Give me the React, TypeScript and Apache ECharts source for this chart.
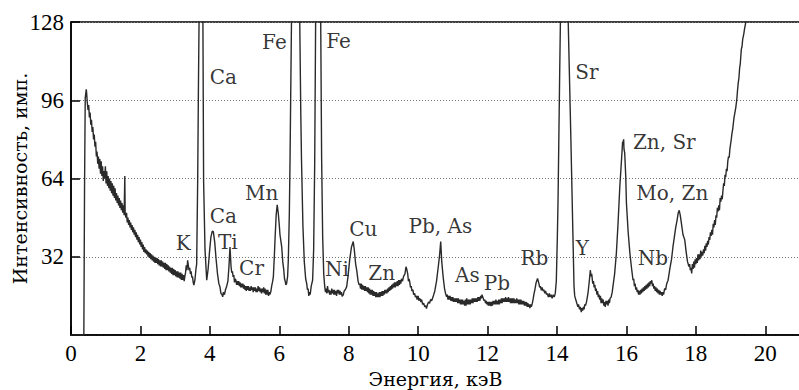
import React, { useEffect, useRef } from "react";
import * as echarts from "echarts";

// Spectrum: [energy keV, intensity counts]
const spectrumLow: [number, number][] = [
  [0, 0], [0.37, 0], [0.39, 60], [0.41, 97], [0.44, 100.5], [0.45, 99], [0.47, 95], [0.49, 92], [0.51, 94], [0.53, 89],
  [0.55, 91], [0.57, 86], [0.59, 88], [0.61, 83], [0.63, 85], [0.65, 80], [0.67, 82], [0.69, 77], [0.71, 79], [0.73, 73],
  [0.75, 75], [0.77, 70], [0.79, 73], [0.81, 68], [0.83, 72], [0.85, 66], [0.87, 71], [0.89, 65], [0.91, 69], [0.93, 63],
  [0.95, 67], [0.97, 64], [0.99, 69], [1.01, 62], [1.03, 67], [1.05, 61], [1.07, 65], [1.09, 60], [1.11, 64], [1.13, 59],
  [1.15, 63], [1.17, 58], [1.19, 62], [1.21, 57], [1.23, 61], [1.25, 56], [1.27, 60], [1.29, 55], [1.31, 58], [1.33, 54],
  [1.35, 57], [1.37, 53], [1.39, 56], [1.41, 52], [1.43, 55], [1.45, 51], [1.47, 54], [1.49, 50], [1.51, 53], [1.53, 49],
  [1.55, 65], [1.56, 50], [1.58, 48], [1.6, 50], [1.62, 46], [1.64, 48], [1.66, 45], [1.68, 47], [1.7, 44], [1.72, 46],
  [1.74, 43], [1.76, 45], [1.78, 42], [1.8, 44], [1.82, 41], [1.84, 43], [1.86, 40], [1.88, 42], [1.9, 39], [1.92, 41],
  [1.94, 38], [1.96, 40], [1.98, 37], [2.0, 39], [2.02, 36], [2.04, 38], [2.06, 35], [2.08, 37], [2.1, 34], [2.12, 36],
  [2.14, 33.5], [2.16, 35], [2.18, 33], [2.2, 34.5], [2.22, 32], [2.24, 34], [2.26, 31.5], [2.28, 33.5], [2.3, 31], [2.32, 33],
  [2.34, 30.5], [2.36, 32.5], [2.38, 30], [2.4, 32], [2.42, 29.5], [2.44, 31.5], [2.46, 29.5], [2.48, 31.5], [2.5, 29], [2.52, 31],
  [2.54, 28.5], [2.56, 30.5], [2.58, 28], [2.6, 30.5], [2.62, 28], [2.64, 30], [2.66, 27.5], [2.68, 29.5], [2.7, 27], [2.72, 29.5],
  [2.74, 26.5], [2.76, 29], [2.78, 26.5], [2.8, 28.5], [2.82, 26], [2.84, 28], [2.86, 25.5], [2.88, 27.5], [2.9, 25], [2.92, 27.5],
  [2.94, 24.5], [2.96, 27], [2.98, 24.5], [3.0, 26.5], [3.02, 24], [3.04, 26], [3.06, 23.5], [3.08, 26], [3.1, 23.5], [3.12, 25.5],
  [3.14, 23], [3.16, 25.5], [3.18, 22.5], [3.2, 25], [3.22, 22.5], [3.24, 24.5], [3.26, 22], [3.28, 24], [3.3, 25.5], [3.32, 28.5],
  [3.34, 26.5], [3.36, 30.5], [3.38, 28.5], [3.4, 26.5], [3.42, 27.5], [3.44, 25], [3.46, 26], [3.48, 23.5], [3.5, 24], [3.52, 21.5],
  [3.54, 20.4], [3.57, 22.5], [3.6, 27], [3.62, 29], [3.65, 64], [3.67, 100], [3.69, 130], [3.74, 200], [3.79, 130], [3.8, 128],
  [3.82, 63], [3.86, 35], [3.91, 22.4], [3.95, 27], [3.99, 34], [4.03, 40], [4.07, 42.5], [4.1, 42.3], [4.14, 38], [4.18, 31],
  [4.22, 25], [4.26, 21], [4.29, 19.7], [4.32, 17], [4.35, 16.5], [4.37, 15.6], [4.39, 17.5], [4.42, 16.5], [4.45, 18.5], [4.48, 19.7],
  [4.52, 22], [4.55, 28], [4.58, 36], [4.61, 28], [4.63, 25.5], [4.65, 26], [4.67, 23.8], [4.69, 24.5], [4.71, 21.5], [4.73, 23],
  [4.75, 22.5], [4.77, 20.5], [4.79, 22], [4.81, 20.5], [4.83, 22], [4.85, 20], [4.87, 21.5], [4.89, 19.5], [4.91, 21], [4.93, 19.5],
  [4.95, 21], [4.97, 19], [4.99, 20.5], [5.01, 18.5], [5.03, 20], [5.05, 18], [5.07, 20], [5.09, 18.5], [5.11, 20], [5.13, 18],
  [5.15, 19.5], [5.17, 18], [5.19, 20], [5.21, 18.5], [5.23, 19.5], [5.25, 17.5], [5.27, 19.5], [5.29, 18], [5.31, 19.5], [5.33, 17.5],
  [5.35, 19], [5.37, 17.5], [5.39, 20], [5.41, 18], [5.43, 19.5], [5.45, 17.5], [5.47, 19], [5.49, 17], [5.51, 19], [5.53, 17.5],
  [5.55, 19.5], [5.57, 17], [5.59, 19], [5.61, 16.5], [5.63, 18.5], [5.65, 16.5], [5.67, 18.5], [5.69, 16], [5.71, 17.5], [5.73, 16.5],
  [5.76, 18], [5.78, 20], [5.81, 22], [5.83, 24], [5.86, 33], [5.88, 40], [5.91, 49], [5.94, 53.2], [5.97, 50], [6.0, 45],
  [6.02, 41], [6.04, 39], [6.07, 36], [6.1, 30], [6.13, 26.5], [6.15, 23], [6.17, 22], [6.19, 20.5], [6.21, 21], [6.24, 24],
  [6.26, 30.6], [6.29, 50], [6.31, 72], [6.36, 140], [6.47, 300], [6.58, 140], [6.62, 90], [6.64, 71.7], [6.68, 45], [6.72, 30],
  [6.76, 23], [6.79, 21], [6.81, 18.5], [6.83, 19], [6.85, 16], [6.87, 17.5], [6.89, 16.5], [6.92, 20], [6.96, 22.4], [6.99, 35],
  [7.02, 70], [7.05, 135], [7.12, 180], [7.19, 135], [7.22, 72], [7.25, 40], [7.28, 25], [7.31, 19.7], [7.33, 17.5], [7.35, 19],
  [7.37, 17], [7.39, 20], [7.41, 17.5], [7.43, 18.5], [7.45, 16.5], [7.47, 18], [7.49, 16.5], [7.51, 19], [7.53, 17], [7.55, 18.5],
  [7.57, 16.5], [7.59, 18.5], [7.61, 16.5], [7.63, 18], [7.65, 16], [7.67, 18.5], [7.69, 17], [7.71, 18.5], [7.73, 16.5], [7.75, 18],
  [7.77, 16.5], [7.79, 17.5], [7.81, 15.8], [7.84, 16.3], [7.87, 18], [7.9, 18.5], [7.94, 19.7], [7.98, 24], [8.03, 31], [8.08, 36],
  [8.13, 38.2], [8.16, 35], [8.2, 29], [8.23, 26.5], [8.27, 22], [8.3, 20.5], [8.32, 21], [8.34, 19], [8.36, 21], [8.38, 18.5],
  [8.4, 20.5], [8.42, 18.5], [8.44, 20], [8.46, 18], [8.48, 20], [8.5, 18], [8.52, 19.5], [8.54, 17.5], [8.56, 19.5], [8.58, 17],
  [8.6, 19], [8.62, 16.5], [8.64, 18.5], [8.66, 16.5], [8.68, 18.5], [8.7, 16], [8.72, 18], [8.74, 16], [8.76, 17.5], [8.78, 15.5],
  [8.8, 17.5], [8.82, 15.5], [8.84, 17], [8.86, 15.5], [8.88, 17.5], [8.9, 15.5], [8.92, 17.5], [8.94, 16], [8.96, 18], [8.98, 16],
  [9.0, 18], [9.02, 16.5], [9.04, 18.5], [9.06, 17], [9.08, 18.5], [9.1, 17], [9.12, 19], [9.14, 17.5], [9.16, 19.5], [9.18, 18],
  [9.2, 20], [9.22, 18.5], [9.24, 20.5], [9.26, 19], [9.28, 21], [9.3, 19.5], [9.32, 21.5], [9.34, 19.5], [9.36, 21.5], [9.38, 20],
  [9.4, 22], [9.42, 20], [9.44, 22.5], [9.46, 20.5], [9.48, 22.5], [9.5, 21], [9.52, 23], [9.55, 22], [9.58, 24], [9.62, 25],
  [9.65, 27.9], [9.67, 27], [9.7, 25], [9.72, 22], [9.74, 23], [9.76, 21.5], [9.78, 19.5], [9.8, 20], [9.82, 18], [9.85, 18.5],
];

const spectrumHigh: [number, number][] = [
  [9.87, 16.5], [9.9, 17], [9.92, 15.5], [9.95, 16], [9.97, 14.5], [10.0, 16], [10.02, 14], [10.05, 15], [10.08, 13.5], [10.1, 14.5],
  [10.13, 12.5], [10.16, 13], [10.19, 11.5], [10.22, 12], [10.24, 10.8], [10.27, 12.5], [10.3, 13.5], [10.33, 13], [10.36, 14.5], [10.39, 14],
  [10.43, 15.6], [10.48, 18], [10.53, 22], [10.58, 27.9], [10.62, 33], [10.65, 38.2], [10.68, 30], [10.72, 23.8], [10.76, 19], [10.79, 17],
  [10.82, 15.6], [10.84, 16.5], [10.86, 14.5], [10.88, 16], [10.9, 14.5], [10.92, 16], [10.94, 14], [10.96, 15.5], [10.98, 13.8], [11.0, 15.5],
  [11.02, 13.5], [11.04, 15], [11.06, 13.5], [11.08, 15], [11.1, 13.5], [11.12, 15], [11.14, 13], [11.16, 15], [11.18, 13], [11.2, 14.5],
  [11.22, 12.5], [11.24, 14.5], [11.26, 12.5], [11.28, 14.5], [11.3, 12.5], [11.32, 14], [11.34, 12], [11.36, 14.5], [11.38, 12], [11.4, 15],
  [11.42, 12.5], [11.44, 14.5], [11.46, 12.5], [11.48, 14.5], [11.5, 12.5], [11.52, 14.5], [11.54, 13], [11.56, 15], [11.58, 13], [11.6, 15],
  [11.62, 13.5], [11.64, 15], [11.66, 13.5], [11.68, 15], [11.7, 13.5], [11.72, 15.5], [11.74, 14], [11.76, 15.5], [11.78, 14], [11.8, 16],
  [11.82, 15], [11.84, 16.5], [11.86, 15.5], [11.88, 15.5], [11.9, 14], [11.92, 14.5], [11.94, 13], [11.96, 14], [11.98, 12.5], [12.0, 13.5],
  [12.02, 12], [12.04, 13.5], [12.06, 12], [12.08, 13.5], [12.1, 11.8], [12.12, 13.5], [12.14, 12], [12.16, 14], [12.18, 12.5], [12.2, 14],
  [12.22, 12.5], [12.24, 14.5], [12.26, 12.5], [12.28, 14], [12.3, 12.5], [12.32, 14.5], [12.34, 12.5], [12.36, 14.5], [12.38, 13], [12.4, 15],
  [12.42, 13], [12.44, 15], [12.46, 13.5], [12.48, 15], [12.5, 13.5], [12.52, 15.5], [12.54, 13.5], [12.56, 15], [12.58, 13.5], [12.6, 15.5],
  [12.62, 13.5], [12.64, 15], [12.66, 13], [12.68, 15], [12.7, 13], [12.72, 15], [12.74, 13], [12.76, 15], [12.78, 13], [12.8, 14.5],
  [12.82, 13], [12.84, 15], [12.86, 13], [12.88, 14.5], [12.9, 12.5], [12.92, 14.5], [12.94, 12.5], [12.96, 14.5], [12.98, 12.5], [13.0, 14],
  [13.02, 12.5], [13.04, 14], [13.06, 12], [13.08, 13.5], [13.1, 12], [13.12, 13.5], [13.14, 11.5], [13.16, 13], [13.18, 11.5], [13.2, 12.5],
  [13.22, 11], [13.24, 12.5], [13.26, 11.5], [13.29, 13], [13.31, 14.5], [13.34, 17], [13.36, 18.3], [13.4, 21.5], [13.44, 23.1], [13.48, 21],
  [13.5, 19.5], [13.52, 20], [13.55, 18.3], [13.57, 19.5], [13.6, 18], [13.62, 18.5], [13.65, 17], [13.67, 18], [13.7, 16.5], [13.72, 17],
  [13.75, 15.5], [13.78, 17], [13.8, 15.5], [13.83, 16.5], [13.86, 15], [13.89, 16.5], [13.92, 15.5], [13.95, 17], [13.98, 22], [14.01, 40],
  [14.03, 55], [14.08, 110], [14.1, 130], [14.21, 280], [14.32, 130], [14.4, 80], [14.46, 40], [14.49, 20], [14.51, 16], [14.53, 15],
  [14.56, 13.5], [14.58, 12.5], [14.6, 11.5], [14.62, 12.5], [14.65, 10.5], [14.67, 11.5], [14.7, 9.4], [14.72, 11], [14.74, 10], [14.76, 11.5],
  [14.78, 10.5], [14.8, 12.5], [14.82, 12], [14.85, 13.5], [14.88, 16], [14.9, 18], [14.93, 22], [14.96, 26.5], [14.98, 24], [15.0, 25],
  [15.03, 21], [15.05, 22], [15.07, 19.5], [15.09, 20.5], [15.11, 18], [15.13, 19], [15.15, 16.5], [15.17, 18], [15.19, 15.5], [15.21, 16.5],
  [15.23, 14.5], [15.25, 16], [15.27, 13], [15.29, 15], [15.31, 13], [15.33, 14.5], [15.35, 12], [15.37, 13.5], [15.39, 11.5], [15.41, 14],
  [15.43, 12.5], [15.45, 14], [15.47, 12], [15.49, 14.5], [15.51, 13], [15.53, 15], [15.56, 15.5], [15.59, 17.5], [15.61, 19.7], [15.66, 25],
  [15.71, 33.4], [15.76, 46], [15.81, 60.8], [15.86, 72], [15.89, 79], [15.9, 78.6], [15.92, 80], [15.93, 76], [15.95, 74.5], [15.98, 65],
  [16.0, 54], [16.05, 42], [16.1, 33.4], [16.15, 27], [16.19, 22.4], [16.21, 23], [16.23, 20], [16.25, 21], [16.27, 18.5], [16.29, 19.5],
  [16.31, 17.5], [16.33, 18.5], [16.35, 16.5], [16.37, 18], [16.39, 16.5], [16.41, 18.5], [16.43, 17], [16.45, 19], [16.47, 17.5], [16.49, 19.5],
  [16.51, 18], [16.53, 20], [16.55, 18.5], [16.57, 20.5], [16.59, 19], [16.61, 21], [16.63, 19.5], [16.65, 21.5], [16.67, 20], [16.69, 22],
  [16.71, 21], [16.73, 22.4], [16.75, 20], [16.77, 21], [16.79, 19], [16.81, 20], [16.83, 18], [16.85, 19.5], [16.87, 17.5], [16.89, 19],
  [16.91, 17], [16.93, 18.5], [16.95, 16.5], [16.97, 18], [16.99, 16.5], [17.01, 17.5], [17.03, 16], [17.05, 17.5], [17.07, 16.5], [17.1, 19],
  [17.13, 18.5], [17.16, 21], [17.2, 22.4], [17.25, 27], [17.3, 31], [17.34, 36], [17.38, 40], [17.42, 44], [17.46, 47], [17.49, 49.8],
  [17.52, 51], [17.55, 49], [17.59, 45], [17.63, 41], [17.68, 38.9], [17.72, 34], [17.76, 30], [17.8, 28], [17.82, 29], [17.84, 26.5],
  [17.86, 27.5], [17.88, 25.2], [17.9, 29], [17.92, 27], [17.94, 30], [17.96, 27.5], [17.98, 31], [18.0, 29], [18.02, 31.5], [18.04, 29.5],
  [18.06, 33], [18.08, 30.5], [18.1, 33], [18.12, 31], [18.14, 34.5], [18.16, 32], [18.18, 34], [18.2, 32.5], [18.22, 35], [18.24, 33.5],
  [18.26, 36.5], [18.28, 34.5], [18.3, 37.5], [18.32, 36], [18.34, 38.5], [18.36, 37], [18.38, 40], [18.4, 38.9], [18.42, 42], [18.44, 40.5],
  [18.46, 43], [18.48, 41], [18.5, 45.5], [18.52, 44], [18.54, 47], [18.56, 45], [18.58, 49], [18.6, 48], [18.62, 52], [18.64, 50.5],
  [18.66, 53], [18.68, 51], [18.7, 56], [18.72, 54.5], [18.74, 57], [18.76, 55.5], [18.78, 59], [18.8, 62], [18.82, 61], [18.84, 65.5],
  [18.86, 64.5], [18.88, 68], [18.9, 67], [18.92, 71], [18.94, 73], [18.96, 72.5], [18.98, 76], [19.0, 78], [19.02, 80], [19.04, 82.5],
  [19.06, 84], [19.08, 86.5], [19.1, 89], [19.12, 90.5], [19.15, 93], [19.18, 96.4], [19.2, 100], [19.22, 103], [19.24, 105], [19.26, 109],
  [19.28, 111], [19.31, 116.9], [19.33, 118], [19.35, 121], [19.38, 123], [19.4, 125], [19.44, 128], [19.5, 134],
];

// Element annotations: name, energy position, intensity position
const labelNames: string[] = [
  "Ca", "Fe", "Fe", "Mn", "K", "Ca", "Ti", "Cr", "Ni", "Cu", "Zn", "Pb, As", "As", "Pb", "Rb", "Sr", "Y", "Zn, Sr", "Mo, Zn", "Nb",
];
const labelE: number[] = [
  4.39, 5.86, 7.71, 5.49, 3.23, 4.39, 4.52, 5.2, 7.66, 8.42, 8.95, 10.64, 11.42, 12.27, 13.35, 14.86, 14.73, 17.09, 17.32, 16.76,
];
const labelV: number[] = [
  105.4, 119.9, 120.2, 58, 37.5, 48.7, 38.2, 27.2, 26.8, 43.3, 25.2, 44.6, 24.5, 21.3, 31.3, 107.4, 35.5, 78.8, 58, 31.3,
];

const xTicks = { min: 0, max: 21, interval: 2 };
const yTicks = { min: 0, max: 128, interval: 32 };

export default function App() {
  const ref = useRef<HTMLDivElement>(null);
  useEffect(() => {
    if (!ref.current) return;
    const chart = echarts.init(ref.current, null, { renderer: "svg" });
    const lineData = spectrumLow.concat(spectrumHigh);
    const labelData = labelNames.map((n, i) => [labelE[i], labelV[i], n]);
    chart.setOption({
      animation: false,
      backgroundColor: "#fff",
      grid: {
        left: 71,
        top: 22,
        width: 729,
        bottom: 55,
        outerBoundsMode: "none",
        containLabel: false,
        show: true,
        borderColor: "#000",
        borderWidth: 1.5,
        backgroundColor: "transparent",
      },
      xAxis: {
        type: "value",
        min: xTicks.min,
        max: xTicks.max,
        interval: xTicks.interval,
        name: "Энергия, кэВ",
        nameLocation: "middle",
        nameGap: 34,
        nameMoveOverlap: false,
        nameTextStyle: { fontFamily: "DejaVu Serif", fontSize: 19, lineHeight: 19, color: "#000", verticalAlign: "top" },
        axisLine: { lineStyle: { color: "#000", width: 1.5 } },
        axisTick: { inside: true, length: 9, lineStyle: { color: "#000", width: 1.5 } },
        axisLabel: {
          margin: 8,
          fontFamily: "Liberation Serif",
          fontSize: 23,
          lineHeight: 20,
          color: "#000",
          formatter: (v: number) => (v % 2 === 0 ? String(v) : ""),
        },
        splitLine: { show: false },
      },
      yAxis: {
        type: "value",
        min: yTicks.min,
        max: yTicks.max,
        interval: yTicks.interval,
        name: "Интенсивность, имп.",
        nameLocation: "middle",
        nameGap: 42,
        nameMoveOverlap: false,
        nameTextStyle: { fontFamily: "DejaVu Serif", fontSize: 19, color: "#000" },
        axisLine: { lineStyle: { color: "#000", width: 1.5 } },
        axisTick: { inside: true, length: 9, lineStyle: { color: "#000", width: 1.5 } },
        axisLabel: {
          margin: 7,
          fontFamily: "Liberation Serif",
          fontSize: 23,
          color: "#000",
          formatter: (v: number) => (v === 0 ? "" : String(v)),
        },
        splitLine: { show: true, lineStyle: { color: "#777", type: [1, 2], width: 1 } },
      },
      series: [
        {
          type: "line",
          data: lineData,
          showSymbol: false,
          symbol: "none",
          clip: true,
          lineStyle: { color: "#2a2a2a", width: 1.4 },
          z: 3,
        },
        {
          type: "scatter",
          data: labelData,
          symbolSize: 1,
          itemStyle: { color: "rgba(0,0,0,0)" },
          silent: true,
          z: 4,
          label: {
            show: true,
            position: "inside",
            formatter: (p: any) => p.data[2],
            fontFamily: "DejaVu Serif",
            fontSize: 20,
            color: "#000",
          },
        },
      ],
    });
    return () => chart.dispose();
  }, []);
  return <div ref={ref} style={{ width: 799, height: 390, position: "absolute", left: 0, top: 0 }} />;
}
